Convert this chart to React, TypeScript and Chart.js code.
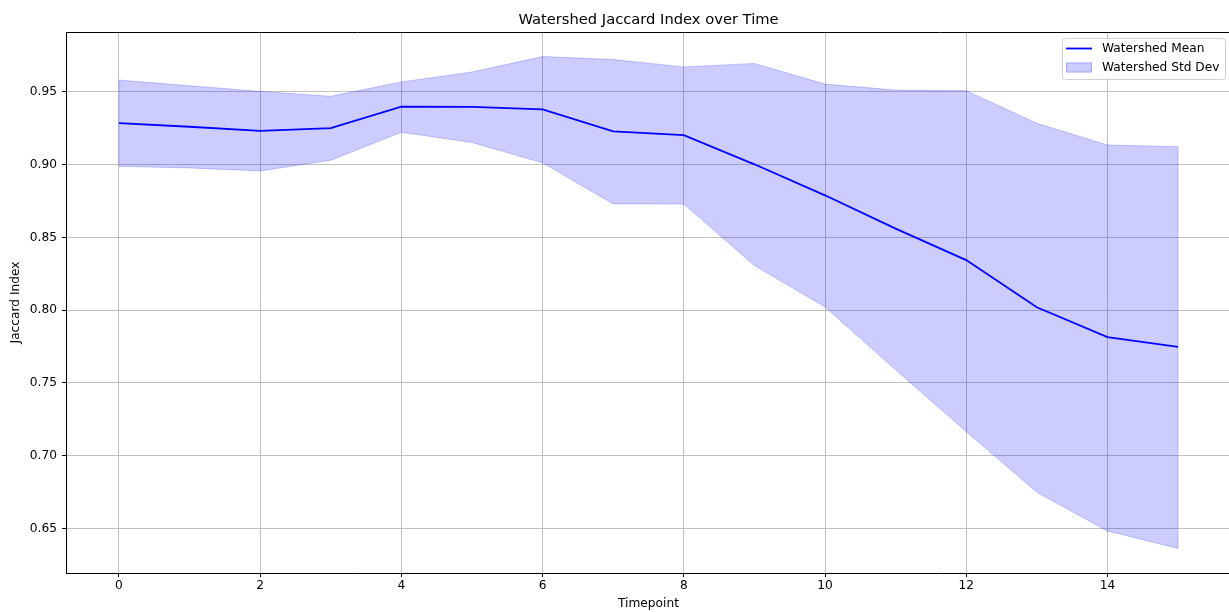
import React, { useEffect, useRef } from "react";
import { Chart, registerables } from "chart.js";

Chart.register(...registerables);

// Timepoints along the x axis
const timepoints = [0, 1, 2, 3, 4, 5, 6, 7, 8, 9, 10, 11, 12, 13, 14, 15];

// Mean Jaccard index per timepoint
const meanValues = [
  0.9285, 0.926, 0.9231, 0.9251, 0.9398, 0.9397, 0.938, 0.9228,
  0.9202, 0.9002, 0.8789, 0.856, 0.8344, 0.802, 0.7815, 0.7748,
];

// Mean + one standard deviation
const upperValues = [
  0.9581, 0.9542, 0.9503, 0.9469, 0.9568, 0.9636, 0.9742, 0.9722,
  0.9671, 0.9695, 0.9553, 0.9512, 0.9508, 0.9284, 0.9135, 0.9123,
];

// Mean - one standard deviation
const lowerValues = [
  0.8988, 0.8977, 0.8956, 0.903, 0.9222, 0.9152, 0.9012, 0.873,
  0.8729, 0.8306, 0.8022, 0.759, 0.7166, 0.6748, 0.6483, 0.6363,
];

const xTicks = [0, 2, 4, 6, 8, 10, 12, 14];
const yTicks = [0.65, 0.7, 0.75, 0.8, 0.85, 0.9, 0.95];

const titleText = "Watershed Jaccard Index over Time";
const xTitle = "Timepoint";
const yTitle = "Jaccard Index";
const legendLabels = ["Watershed Mean", "Watershed Std Dev"];

const FONT = "'DejaVu Sans', 'Liberation Sans', sans-serif";
const LINE_BLUE = "#0000ff";
const BAND = "rgba(0, 0, 255, 0.2)";

// visible page width; the canvas runs a little past it so the axes are clipped at the edge
const VIEW_W = 1229;
const CANVAS_W = 1232;
const CANVAS_H = 612;

// Axis limits with a 5% margin around the data
const dataMin = Math.min(...lowerValues);
const dataMax = Math.max(...upperValues);
const yPad = (dataMax - dataMin) * 0.05;
const xPad = (timepoints[timepoints.length - 1] - timepoints[0]) * 0.05;

const decorations = {
  id: "decorations",
  afterDatasetsDraw(chart: any) {
    const { ctx, scales } = chart;
    const x = scales.x;
    const y = scales.y;
    ctx.save();
    // closing edges of the std band
    ctx.strokeStyle = BAND;
    ctx.lineWidth = 1;
    const first = 0;
    const last = timepoints.length - 1;
    [first, last].forEach((i) => {
      const px = x.getPixelForValue(timepoints[i]);
      ctx.beginPath();
      ctx.moveTo(px, y.getPixelForValue(upperValues[i]));
      ctx.lineTo(px, y.getPixelForValue(lowerValues[i]));
      ctx.stroke();
    });
    ctx.restore();
  },
  afterDraw(chart: any) {
    const { ctx, chartArea } = chart;
    const { left, right, top, bottom } = chartArea;
    ctx.save();

    // top spine
    ctx.strokeStyle = "#000";
    ctx.lineWidth = 1;
    ctx.beginPath();
    ctx.moveTo(left, top + 0.5);
    ctx.lineTo(right + 1, top + 0.5);
    ctx.stroke();

    // title
    ctx.fillStyle = "#000";
    ctx.textAlign = "center";
    ctx.textBaseline = "middle";
    ctx.font = `14.7px ${FONT}`;
    ctx.fillText(titleText, (left + right) / 2, 20);

    // axis titles
    ctx.font = `12.2px ${FONT}`;
    ctx.fillText(xTitle, (left + right) / 2, 604);
    ctx.save();
    ctx.translate(16, (top + bottom) / 2);
    ctx.rotate(-Math.PI / 2);
    ctx.fillText(yTitle, 0, 0);
    ctx.restore();

    // legend
    const bw = 163;
    const bh = 41;
    const bx = VIEW_W - 4 - bw;
    const by = top + 6;
    ctx.beginPath();
    ctx.roundRect(bx + 0.5, by + 0.5, bw, bh, 3);
    ctx.fillStyle = "rgba(255,255,255,0.8)";
    ctx.fill();
    ctx.strokeStyle = "#d0d0d0";
    ctx.lineWidth = 1;
    ctx.stroke();

    const hx = bx + 4;
    const hw = 26;
    const row1 = by + 10.5;
    const row2 = by + 29.5;
    ctx.strokeStyle = LINE_BLUE;
    ctx.lineWidth = 1.8;
    ctx.beginPath();
    ctx.moveTo(hx, row1);
    ctx.lineTo(hx + hw, row1);
    ctx.stroke();

    ctx.fillStyle = BAND;
    ctx.fillRect(hx, row2 - 5, hw, 10);
    ctx.strokeStyle = BAND;
    ctx.lineWidth = 1;
    ctx.strokeRect(hx + 0.5, row2 - 4.5, hw - 1, 9);

    ctx.fillStyle = "#000";
    ctx.textAlign = "left";
    ctx.textBaseline = "middle";
    ctx.font = `12.2px ${FONT}`;
    ctx.fillText(legendLabels[0], hx + 36, row1);
    ctx.fillText(legendLabels[1], hx + 36, row2);

    ctx.restore();
  },
};

export default function App() {
  const canvasRef = useRef<HTMLCanvasElement | null>(null);

  useEffect(() => {
    document.body.style.margin = "0";
    document.body.style.overflow = "hidden";
    const canvas = canvasRef.current;
    if (!canvas) return;

    const pts = (vals: number[]) =>
      timepoints.map((t, i) => ({ x: t, y: vals[i] }));

    const chart = new Chart(canvas, {
      type: "line",
      data: {
        datasets: [
          {
            label: legendLabels[0],
            data: pts(meanValues),
            borderColor: LINE_BLUE,
            borderWidth: 1.8,
            pointRadius: 0,
            fill: false,
            tension: 0,
          },
          {
            label: "upper",
            data: pts(upperValues),
            borderColor: BAND,
            backgroundColor: BAND,
            borderWidth: 1,
            pointRadius: 0,
            fill: "+1",
            tension: 0,
          },
          {
            label: "lower",
            data: pts(lowerValues),
            borderColor: BAND,
            borderWidth: 1,
            pointRadius: 0,
            fill: false,
            tension: 0,
          },
        ],
      },
      options: {
        responsive: false,
        animation: false,
        events: [],
        layout: { padding: { top: 32, right: 1, bottom: 0, left: 0 } },
        plugins: {
          legend: { display: false },
          title: { display: false },
          tooltip: { enabled: false },
        },
        scales: {
          x: {
            type: "linear",
            min: timepoints[0] - xPad,
            max: timepoints[timepoints.length - 1] + xPad,
            afterBuildTicks: (scale: any) => {
              scale.ticks = xTicks.map((v) => ({ value: v }));
            },
            afterFit: (scale: any) => {
              scale.height = 39;
            },
            grid: {
              color: "#b0b0b0",
              lineWidth: 0.8,
              drawTicks: true,
              tickLength: 4,
              tickColor: "#000",
              tickWidth: 1,
            },
            border: { display: true, color: "#000", width: 1 },
            ticks: {
              color: "#000",
              font: { family: FONT, size: 12.2 },
              padding: 2,
              maxRotation: 0,
              autoSkip: false,
              callback: (v: any) => String(v),
            },
          },
          y: {
            type: "linear",
            min: dataMin - yPad,
            max: dataMax + yPad,
            afterBuildTicks: (scale: any) => {
              scale.ticks = yTicks.map((v) => ({ value: v }));
            },
            afterFit: (scale: any) => {
              scale.width = 66;
            },
            grid: {
              color: "#b0b0b0",
              lineWidth: 0.8,
              drawTicks: true,
              tickLength: 4,
              tickColor: "#000",
              tickWidth: 1,
            },
            border: { display: true, color: "#000", width: 1 },
            ticks: {
              color: "#000",
              font: { family: FONT, size: 12.2 },
              padding: 5,
              autoSkip: false,
              callback: (v: any) => Number(v).toFixed(2),
            },
          },
        },
      },
      plugins: [decorations],
    });

    return () => chart.destroy();
  }, []);

  return (
    <div style={{ width: VIEW_W, height: CANVAS_H, overflow: "hidden" }}>
      <canvas
        ref={canvasRef}
        width={CANVAS_W}
        height={CANVAS_H}
        style={{ display: "block", width: CANVAS_W, height: CANVAS_H }}
      />
    </div>
  );
}
